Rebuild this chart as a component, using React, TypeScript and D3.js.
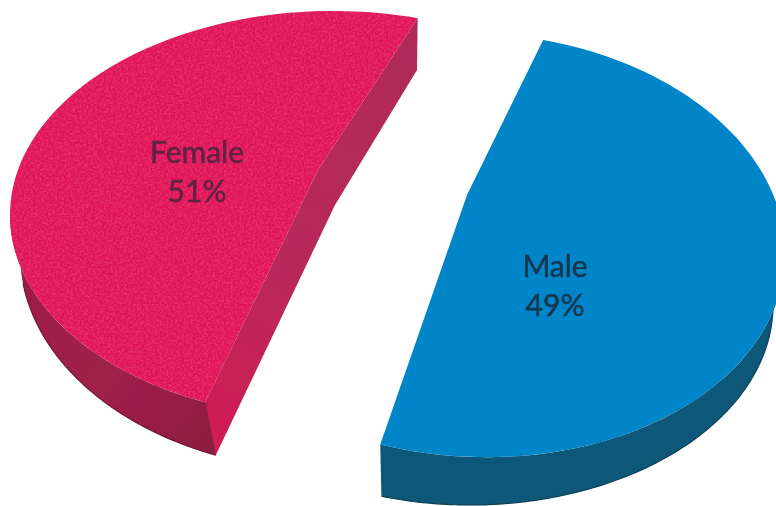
import React from "react";
import * as d3 from "d3";

// ---- data ----
const categories = ["Female", "Male"];
const shares = [51, 49];

// ---- layout of the tilted, exploded pie ----
const W = 776;
const H = 506;
const rad = (d: number) => (d * Math.PI) / 180;

type Ellipse = { cx: number; cy: number; rx: number; ry: number; k: number };
type Pt = [number, number];

const femaleTop: Ellipse = { cx: 333, cy: 215, rx: 323, ry: 204, k: 0 };
const femaleBase: Ellipse = { cx: 333, cy: 253, rx: 313, ry: 218, k: 0 };
const maleTop: Ellipse = { cx: 475, cy: 245, rx: 310, ry: 212, k: 8 };
const maleBase: Ellipse = { cx: 470, cy: 305, rx: 303, ry: 200, k: 0 };

// ellipse parameter (degrees, clockwise from top) at each slice's two ends
const femaleSweep: Pt = [203.3, 375.2];
const maleSweep: Pt = [12.7, 197.8];

// the cut edges bend where the perspective is strongest
const femaleApex: Pt = [318, 170];
const femaleCutApex: Pt = [335, 205];
const femaleCutTop: Pt = [417, 70];
const maleApex: Pt = [467, 195];

const at = (e: Ellipse, deg: number): Pt => {
  const s = Math.sin(rad(deg));
  const c = Math.cos(rad(deg));
  return [e.cx + e.rx * s, e.cy - e.ry * c + e.k * s];
};
const rim = (e: Ellipse, a: number, b: number): Pt[] =>
  d3.range(0, 121).map((i) => at(e, a + ((b - a) * i) / 120));

const line = d3.line<Pt>();
const closed = (pts: Pt[]) => (line(pts) as string) + "Z";

// slices from d3.pie, mapped on to each ellipse's sweep
const slices = d3.pie<number>().sort(null)(shares);
const sweepOf = (i: number, sweep: Pt) =>
  d3.scaleLinear().domain([slices[i].startAngle, slices[i].endAngle]).range(sweep);
const femaleScale = sweepOf(0, femaleSweep);
const maleScale = sweepOf(1, maleSweep);
const fStart = femaleScale(slices[0].startAngle);
const fEnd = femaleScale(slices[0].endAngle);
const mStart = maleScale(slices[1].startAngle);
const mEnd = maleScale(slices[1].endAngle);

const femaleFace = closed([femaleApex, ...rim(femaleTop, fStart, fEnd)]);
const femaleOuter = closed([
  ...rim(femaleBase, fStart - 1.3, 270),
  ...rim(femaleTop, 270, fStart),
]);
const femaleCorner = at(femaleTop, fStart);
const femaleBaseCorner = at(femaleBase, fStart - 1.3);
const femaleRimEnd = at(femaleTop, fEnd);
const femaleCut = closed([
  femaleRimEnd,
  femaleCutTop,
  femaleCutApex,
  femaleBaseCorner,
  femaleCorner,
  femaleApex,
]);
const femaleEdge = line([...rim(femaleBase, fStart - 1.3, 262)]) as string;

const maleFace = closed([maleApex, ...rim(maleTop, mStart, mEnd)]);
const maleOuter = closed([
  ...rim(maleBase, mEnd - 0.8, 90),
  ...rim(maleTop, 90, mEnd),
]);
const maleEdge = line(rim(maleBase, mEnd - 0.8, 90)) as string;

const labels = [
  { x: 197, y1: 163, y2: 202, fill: "#5e2340" },
  { x: 555, y1: 277, y2: 316, fill: "#173650" },
];

export default function App() {
  return (
    <svg
      width={W}
      height={H}
      viewBox={`0 0 ${W} ${H}`}
      style={{ position: "absolute", left: 0, top: 0, display: "block", background: "#fff" }}
    >
      <defs>
        <linearGradient id="fOuter" gradientUnits="userSpaceOnUse" x1="20" y1="300" x2="215" y2="450">
          <stop offset="0" stopColor="#9c1f49" />
          <stop offset="0.5" stopColor="#a0204b" />
          <stop offset="1" stopColor="#8e1a40" />
        </linearGradient>
        <linearGradient id="fCut" gradientUnits="userSpaceOnUse" x1="417" y1="40" x2="210" y2="440">
          <stop offset="0" stopColor="#ae2a58" />
          <stop offset="0.6" stopColor="#b9285a" />
          <stop offset="1" stopColor="#d01c55" />
        </linearGradient>
        <filter id="grain" x="0" y="0" width="100%" height="100%">
          <feTurbulence type="fractalNoise" baseFrequency="0.45" numOctaves="2" seed="4" result="n" />
          <feColorMatrix
            in="n"
            type="matrix"
            values="0 0 0 0 0.95  0 0 0 0 0.2  0 0 0 0 0.42  0.35 0 0 0 -0.13"
            result="g"
          />
          <feComposite in="g" in2="SourceGraphic" operator="in" result="c" />
          <feMerge>
            <feMergeNode in="SourceGraphic" />
            <feMergeNode in="c" />
          </feMerge>
        </filter>
        <filter id="soft" x="-10%" y="-10%" width="120%" height="120%">
          <feGaussianBlur stdDeviation="0.5" />
        </filter>
      </defs>

      <g filter="url(#soft)">
        <path d={femaleOuter} fill="url(#fOuter)" />
        <path d={femaleEdge} fill="none" stroke="#6e1535" strokeWidth={1.2} />
        <path d={femaleCut} fill="url(#fCut)" />
        <path
          d={line([femaleCorner, femaleBaseCorner]) as string}
          stroke="#8e1a40"
          strokeWidth={1}
          fill="none"
        />
        <path d={femaleFace} fill="#e1145a" filter="url(#grain)" />

        <path d={maleOuter} fill="#0e5878" />
        <path d={maleEdge} fill="none" stroke="#0b3f58" strokeWidth={1.2} />
        <path d={maleFace} fill="#0585c8" />
      </g>

      {categories.map((c, i) => (
        <g
          key={c}
          fontFamily="Lato, 'Open Sans', sans-serif"
          fontSize={30}
          textAnchor="middle"
          fill={labels[i].fill}
          stroke={labels[i].fill}
          strokeWidth={0.5}
          filter="url(#soft)"
        >
          <text x={labels[i].x} y={labels[i].y1}>{c}</text>
          <text x={labels[i].x} y={labels[i].y2}>{shares[i]}%</text>
        </g>
      ))}
    </svg>
  );
}
